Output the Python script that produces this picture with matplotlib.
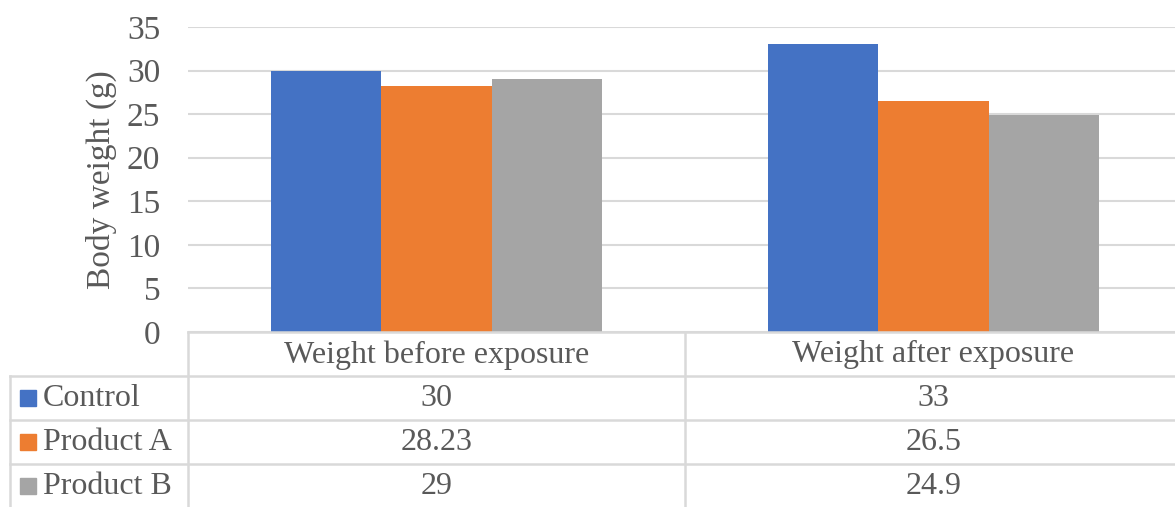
import matplotlib.pyplot as plt
import numpy as np

# Data
categories = ["Weight before exposure", "Weight after exposure"]
series_names = ["Control", "Product A", "Product B"]
control = [30, 33]
product_a = [28.23, 26.5]
product_b = [29, 24.9]
value_labels = [["30", "33"], ["28.23", "26.5"], ["29", "24.9"]]
colors = ["#4472C4", "#ED7D31", "#A5A5A5"]

TEXT = "#595959"
GRID = "#D9D9D9"
plt.rcParams["font.family"] = ["Liberation Serif", "DejaVu Serif"]

W, H = 1175, 507
fig = plt.figure(figsize=(W / 100, H / 100), dpi=100)

# plot area in pixels
x0, x1 = 188, 1175
y_top, y_base = 27, 332
ax = fig.add_axes([x0 / W, 1 - y_base / H, (x1 - x0) / W, (y_base - y_top) / H])

x = np.arange(len(categories))
bw = 0.222
all_series = [control, product_a, product_b]
for i, vals in enumerate(all_series):
    ax.bar(x + (i - 1) * bw, vals, bw, color=colors[i], zorder=3)

xmax = -0.5 + (x1 - x0) / 497.0
ax.set_xlim(-0.5, xmax)
ax.set_ylim(0, 35)
ax.set_yticks(range(0, 36, 5))
ax.yaxis.grid(True, color=GRID, lw=1.5, zorder=0)
ax.tick_params(axis="y", length=0, pad=20, labelsize=24, labelcolor=TEXT)
ax.set_xticks([])
for s in ax.spines.values():
    s.set_visible(False)
fig.text(101 / W, 1 - 180 / H, "Body weight (g)", rotation=90, ha="center",
         va="center", fontsize=24, color=TEXT)

# data table below the plot
tab = fig.add_axes([x0 / W, 0, (x1 - x0) / W, (H - y_base) / H])
row_h = 44.0
tab.set_xlim(-0.5, xmax)
tab.set_ylim((H - y_base) / row_h, 0)
tab.axis("off")
lk = dict(color=GRID, lw=1.8, clip_on=False)

# pixel -> data x for left column
def px(xp):
    return -0.5 + (xp - x0) / 497.0

nrows = len(series_names)
tab.plot([-0.5, xmax], [0, 0], **lk)
for r in range(1, nrows + 1):
    tab.plot([px(10), xmax], [r, r], **lk)
tab.plot([-0.5, -0.5], [0, 5], **lk)
tab.plot([0.5, 0.5], [0, 5], **lk)
tab.plot([px(10), px(10)], [1, 5], **lk)

for j, c in enumerate(categories):
    tab.text(j, 0.52, c, ha="center", va="center", fontsize=23, color=TEXT)
for i, name in enumerate(series_names):
    yc = i + 1.5
    tab.add_patch(plt.Rectangle((px(20), yc - 0.19), px(36) - px(20), 0.38,
                                color=colors[i], clip_on=False))
    tab.text(px(43), yc, name, ha="left", va="center", fontsize=23,
             color=TEXT, clip_on=False)
    for j in range(len(categories)):
        tab.text(j, yc, value_labels[i][j], ha="center", va="center",
                 fontsize=23, color=TEXT)

fig.savefig("out.png", dpi=100)
